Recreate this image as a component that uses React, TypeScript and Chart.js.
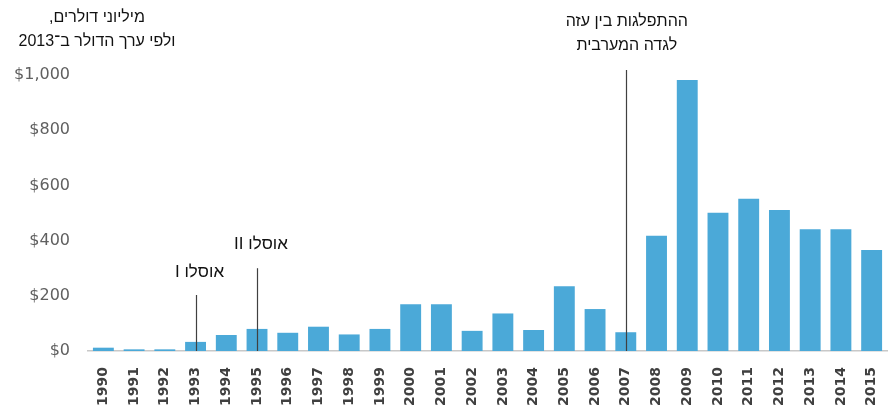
import React, { useEffect, useRef } from "react";
import { Chart, registerables } from "chart.js";

Chart.register(...registerables);

const years = ["1990","1991","1992","1993","1994","1995","1996","1997","1998","1999","2000","2001","2002","2003","2004","2005","2006","2007","2008","2009","2010","2011","2012","2013","2014","2015"];
const aid = [12, 6, 6, 33, 58, 80, 66, 88, 60, 80, 169, 169, 73, 136, 76, 235, 152, 68, 418, 982, 501, 552, 511, 441, 441, 366];
const yTicks = [0, 200, 400, 600, 800, 1000];
const titleLines = ["מיליוני דולרים,", "ולפי ערך הדולר ב־2013"];
const eventYears = ["1993", "1995", "2007"];
const eventLineTops = [203, 300, 1018];
const eventLabels = [["אוסלו I"], ["אוסלו II"], ["ההתפלגות בין עזה", "לגדה המערבית"]];
const eventLabelValues = [285, 385, 1105];

const annotationPlugin = {
  id: "annotations",
  afterDatasetsDraw(chart: any) {
    const ctx = chart.ctx;
    const xs = chart.scales.x;
    const ys = chart.scales.y;
    ctx.save();
    ctx.strokeStyle = "#404040";
    ctx.lineWidth = 1.2;
    eventYears.forEach((yr, i) => {
      const idx = years.indexOf(yr);
      const x = Math.round(xs.getPixelForValue(idx)) + 0.5;
      ctx.beginPath();
      ctx.moveTo(x, ys.getPixelForValue(0));
      ctx.lineTo(x, ys.getPixelForValue(eventLineTops[i]));
      ctx.stroke();
    });
    ctx.fillStyle = "#111";
    ctx.textAlign = "center";
    ctx.textBaseline = "middle";
    ctx.direction = "rtl";
    eventYears.forEach((yr, i) => {
      const idx = years.indexOf(yr);
      const lines = eventLabels[i];
      const x = xs.getPixelForValue(idx) + (lines.length === 1 ? 4 : 1);
      const yBase = ys.getPixelForValue(eventLabelValues[i]);
      ctx.font = (lines.length === 1 ? "17px" : "16px") + " 'Liberation Sans', Arial, sans-serif";
      lines.forEach((l, j) => {
        ctx.fillText(l, x, yBase + j * 24 - (lines.length - 1) * 24);
      });
    });
    ctx.font = "16px 'Liberation Sans', Arial, sans-serif";
    titleLines.forEach((l, j) => {
      ctx.fillText(l, 97, 18 + j * 24);
    });
    ctx.restore();
  },
};

export default function App() {
  const ref = useRef<HTMLCanvasElement>(null);
  useEffect(() => {
    document.body.style.margin = "0";
    const chart = new Chart(ref.current!, {
      type: "bar",
      data: {
        labels: years,
        datasets: [
          {
            data: aid,
            backgroundColor: "#4BA9D8",
            barPercentage: 0.68,
            categoryPercentage: 1,
          },
        ],
      },
      options: {
        animation: false,
        responsive: false,
        devicePixelRatio: 1,
        layout: { padding: { top: 75, right: 2, left: 0, bottom: 0 } },
        plugins: { legend: { display: false }, tooltip: { enabled: false } },
        scales: {
          x: {
            grid: { display: false },
            border: { display: true, color: "#c8c8c8", width: 1.5 },
            ticks: {
              minRotation: 90,
              maxRotation: 90,
              padding: 8,
              color: "#404040",
              font: { family: "'DejaVu Sans', sans-serif", size: 14, weight: "bold" },
            },
            afterFit: (s: any) => {
              s.height = 57;
              s.paddingRight = 0;
              s.paddingLeft = 0;
            },
          },
          y: {
            min: 0,
            max: 1000,
            grid: { display: false },
            border: { display: false },
            afterBuildTicks: (s: any) => { s.ticks = yTicks.map((v) => ({ value: v })); },
            afterFit: (s: any) => { s.width = 88; },
            ticks: {
              padding: 10,
              color: "#606060",
              font: { family: "'DejaVu Sans', sans-serif", size: 16 },
              callback: (v: any) => "$" + Number(v).toLocaleString("en-US"),
            },
          },
        },
      },
      plugins: [annotationPlugin],
    });
    return () => chart.destroy();
  }, []);
  return <canvas ref={ref} width={889} height={408} style={{ display: "block" }} />;
}
